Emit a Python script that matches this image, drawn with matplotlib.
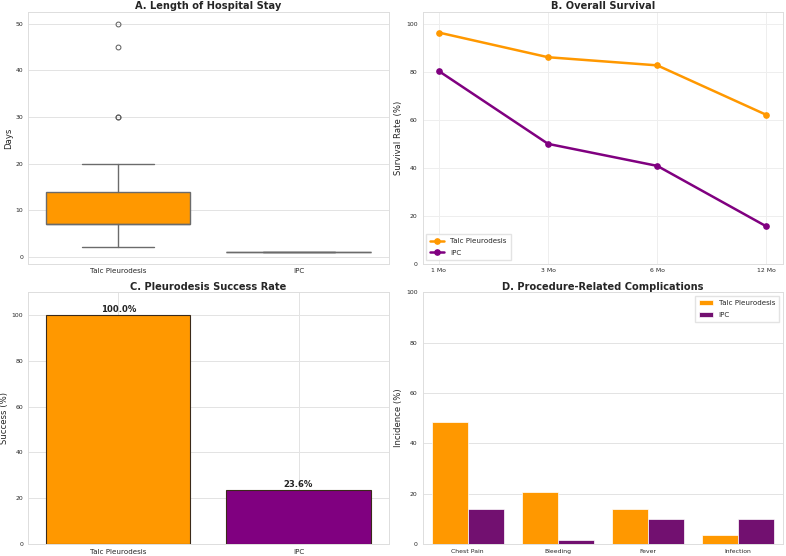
import matplotlib
matplotlib.use("Agg")
import matplotlib.pyplot as plt
import seaborn as sns
import numpy as np

sns.set_style("whitegrid")
plt.rcParams['font.family'] = ['DejaVu Sans']

# Data
groups = ['Talc Pleurodesis', 'IPC']
talc_los = [2, 3, 4, 5, 5, 6, 6, 7, 7, 7, 7, 7, 7, 7, 7,
            8, 9, 10, 10, 12, 13, 14, 14, 16, 20, 30, 30, 45, 50]
ipc_los = [1, 1, 1, 1, 1, 1, 1, 1, 1, 1, 1, 1]

months = ['1 Mo', '3 Mo', '6 Mo', '12 Mo']
talc_surv = [96.5, 86.2, 82.8, 62.1]
ipc_surv = [80.4, 50.0, 40.8, 15.5]

success = [100.0, 23.6]

complications = ['Chest Pain', 'Bleeding', 'Fever', 'Infection']
talc_comp = [48.3, 20.7, 13.8, 3.4]
ipc_comp = [13.9, 1.4, 9.7, 9.7]

orange = '#FF9800'
purple = '#800080'
purple_d = '#721070'

# font sizes
TITLE = 7.1
LABEL = 6.1
BIGTICK = 5.1
SMALLTICK = 4.4

fig, axes = plt.subplots(2, 2, figsize=(7.86, 5.56), dpi=100)
fig.subplots_adjust(left=0.036, right=0.996, top=0.978, bottom=0.022,
                    wspace=0.094, hspace=0.115)

for ax in axes.flat:
    ax.tick_params(length=0, pad=3.5)
    for s in ax.spines.values():
        s.set_color('#dddddd')
        s.set_linewidth(0.7)
    ax.grid(color='#e3e3e3', linewidth=0.7)

# A. Length of hospital stay
ax = axes[0][0]
bp = ax.boxplot([talc_los, ipc_los], positions=[0, 1], widths=0.8,
                patch_artist=True, capwidths=0.4,
                boxprops=dict(edgecolor='#6b6b6b', linewidth=1.0),
                whiskerprops=dict(color='#6b6b6b', linewidth=1.0),
                capprops=dict(color='#6b6b6b', linewidth=1.0),
                medianprops=dict(color='#6b6b6b', linewidth=1.0),
                flierprops=dict(marker='o', markersize=3.5, markerfacecolor='none',
                                markeredgecolor='#5a5a5a', markeredgewidth=0.7))
for patch, c in zip(bp['boxes'], [orange, purple]):
    patch.set_facecolor(c)
ax.set_xlim(-0.5, 1.5)
ax.set_xticks([0, 1])
ax.set_xticklabels(groups, fontsize=BIGTICK)
ax.tick_params(axis='y', labelsize=SMALLTICK)
ax.grid(axis='x', visible=False)
ax.set_ylabel('Days', fontsize=LABEL, labelpad=2)
ax.set_title('A. Length of Hospital Stay', fontsize=TITLE, fontweight='bold', pad=2)

# B. Overall survival
ax = axes[0][1]
x = np.arange(len(months))
ax.plot(x, talc_surv, color=orange, marker='o', linewidth=1.8, markersize=3.8,
        label='Talc Pleurodesis')
ax.plot(x, ipc_surv, color=purple, marker='o', linewidth=1.8, markersize=3.8,
        label='IPC')
ax.set_xticks(x)
ax.set_xticklabels(months)
ax.tick_params(labelsize=SMALLTICK)
ax.set_ylim(0, 105)
ax.grid(color='#eeeeee', linewidth=0.7)
ax.set_ylabel('Survival Rate (%)', fontsize=LABEL, labelpad=2)
ax.set_title('B. Overall Survival', fontsize=TITLE, fontweight='bold', pad=2)
ax.legend(loc='lower left', fontsize=BIGTICK, frameon=True, edgecolor='#dddddd',
          fancybox=False, handlelength=2.0, borderpad=0.6, labelspacing=0.8)

# C. Pleurodesis success rate
ax = axes[1][0]
bars = ax.bar([0, 1], success, width=0.8, color=[orange, purple],
              edgecolor='#3a2a1a', linewidth=0.8)
for b, v in zip(bars, success):
    ax.text(b.get_x() + b.get_width() / 2, v + 0.4, f'{v:.1f}%',
            ha='center', va='bottom', fontsize=LABEL, fontweight='bold', color='#222222')
ax.set_xlim(-0.5, 1.5)
ax.set_ylim(0, 110)
ax.set_xticks([0, 1])
ax.set_xticklabels(groups, fontsize=BIGTICK)
ax.tick_params(axis='y', labelsize=SMALLTICK)
ax.set_ylabel('Success (%)', fontsize=LABEL, labelpad=2)
ax.set_title('C. Pleurodesis Success Rate', fontsize=TITLE, fontweight='bold', pad=2)

# D. Procedure-related complications
ax = axes[1][1]
xc = np.arange(len(complications))
ax.bar(xc - 0.2, talc_comp, width=0.4, color=orange, edgecolor='white',
       linewidth=0.5, label='Talc Pleurodesis')
ax.bar(xc + 0.2, ipc_comp, width=0.4, color=purple_d, edgecolor='white',
       linewidth=0.5, label='IPC')
ax.set_xlim(-0.5, 3.5)
ax.set_ylim(0, 100)
ax.set_xticks(xc)
ax.set_xticklabels(complications)
ax.tick_params(labelsize=SMALLTICK)
ax.grid(axis='x', visible=False)
ax.set_ylabel('Incidence (%)', fontsize=LABEL, labelpad=2)
ax.set_title('D. Procedure-Related Complications', fontsize=TITLE, fontweight='bold', pad=2)
ax.legend(loc='upper right', fontsize=BIGTICK, frameon=True, edgecolor='#dddddd',
          fancybox=False, borderpad=0.6, labelspacing=0.8)

fig.savefig('out.png', dpi=100)
